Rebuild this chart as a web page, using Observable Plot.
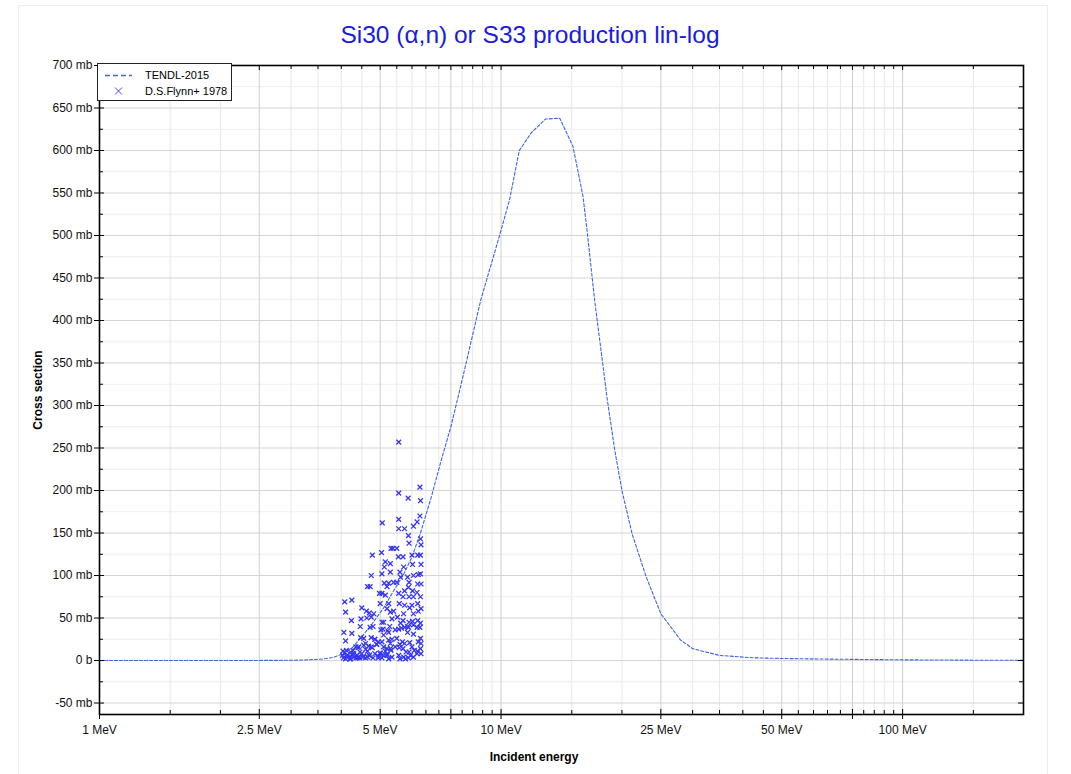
<!DOCTYPE html>
<html><head><meta charset="utf-8">
<script src="https://cdn.jsdelivr.net/npm/d3@7"></script>
<script src="https://cdn.jsdelivr.net/npm/@observablehq/plot@0.6"></script>
<style>
body{margin:0;background:#fff;font-family:"Liberation Sans",Arial,Helvetica,sans-serif;}
#wrap{position:relative;width:1071px;height:774px;overflow:hidden;background:#fff;}
#outer{position:absolute;left:18px;top:5px;width:1028px;height:820px;border:1px solid #ededed;}
#title{position:relative;height:50px;box-sizing:border-box;padding-top:21px;line-height:28px;font-size:24.5px;color:#1a1ae6;text-align:center;width:1060px;}
#chart{position:relative;}
#xlabel{position:absolute;left:434px;width:200px;text-align:center;top:750px;font-weight:bold;font-size:12px;}
#ylabel{position:absolute;left:-62px;top:383px;width:200px;text-align:center;font-weight:bold;font-size:12px;transform:rotate(-90deg);}
#legend{position:absolute;left:97px;top:63px;width:133px;height:36px;border:1px solid #222;background:#fff;}
</style></head>
<body><div id="wrap"><div id="outer"></div>
<div id="title">Si30 (α,n) or S33 production lin-log</div>
<div id="chart"></div>
<div id="xlabel">Incident energy</div>
<div id="ylabel">Cross section</div>
<div id="legend"><svg width="133" height="36" style="font-family:'Liberation Sans',Arial,sans-serif;font-size:11px">
<line x1="7" x2="34" y1="11.5" y2="11.5" stroke="#3d64e0" stroke-width="1.6" stroke-dasharray="5,3"/>
<text x="47" y="15">TENDL-2015</text>
<path d="M17,23.5 l7,7 M24,23.5 l-7,7" stroke="#4a4af5" stroke-width="1"/>
<text x="47" y="31">D.S.Flynn+ 1978</text>
</svg></div>
</div>
<script>
// TENDL-2015 evaluated curve
const tendlE  = [1, 1.5, 2, 2.5, 3, 3.3, 3.6, 3.8, 4.0, 4.26, 4.5, 4.77, 5.1, 5.4, 5.7, 6.0, 6.3, 6.7, 7.1, 7.5, 8.0, 8.9, 9.9, 10.5, 11.1, 11.9, 12.9, 14.0, 15.1, 16.0, 16.4, 17.1, 18.4, 19.2, 20.0, 21.2, 23.0, 25.0, 28.0, 30.0, 35.0, 42.5, 50, 70, 100, 150, 200];
const tendlMb = [0, 0, 0, 0.1, 0.3, 0.8, 1.8, 3.5, 7, 15, 28, 43, 62, 82, 100, 122, 150, 192, 236, 275, 330, 424, 499, 542, 600, 621, 637, 638, 605, 546, 503, 424, 306, 247, 200, 149, 98, 55, 24, 14, 6, 3.2, 2.4, 1.5, 0.8, 0.4, 0.2];

// D.S.Flynn+ 1978 measured points
const flynnE = [
 4.08,4.10,4.06,4.10,4.04,4.08,4.05,4.10,4.03,4.12,
 4.25,4.24,4.25,4.22,4.28,4.22,4.30,4.26,4.20,
 4.50,4.48,4.46,4.47,4.42,4.40,4.45,4.52,4.50,4.38,4.55,4.55,
 4.65,4.75,4.78,4.72,4.62,4.70,4.75,4.63,4.72,4.80,4.75,4.68,4.78,4.60,4.80,4.70,4.65,4.82,4.85,4.90,
 4.98,5.05,5.05,5.04,5.06,5.00,5.05,5.10,5.02,5.08,4.95,5.05,5.00,5.10,5.05,4.95,5.10,5.12,5.12,5.15,5.15,
 5.20,5.25,5.30,5.32,5.38,5.30,5.25,5.20,5.30,5.35,5.28,5.22,5.25,5.35,5.30,5.20,5.32,5.20,5.35,5.25,5.40,5.40,
 5.56,5.56,5.56,5.56,5.50,5.55,5.60,5.50,5.56,5.58,5.52,5.56,5.50,5.58,5.56,5.60,5.62,5.62,
 5.75,5.72,5.70,5.75,5.70,5.75,5.72,5.70,5.75,5.68,5.75,5.70,5.80,5.72,5.78,
 5.87,5.88,5.90,5.85,5.90,5.88,5.90,5.92,5.90,5.88,5.85,5.92,5.90,5.95,5.88,
 6.05,6.02,6.00,6.05,6.02,6.05,6.00,6.05,6.02,6.05,6.00,6.08,6.05,
 6.18,6.20,6.22,6.20,6.18,6.20,6.22,6.20,6.18,6.22,6.20,6.18,
 6.28,6.30,6.28,6.30,6.32,6.30,6.32,6.30,6.32,6.30,6.32,6.30,6.28,6.30,6.32,6.30,6.32,
 4.15,4.30,4.45,4.60,4.75,4.90,4.35,4.55,4.70,4.85,5.00,5.15,5.30,5.45,5.60,
 4.12,4.35,4.60,4.85,5.10,5.25,5.45,5.65,5.85,6.05,4.20,4.40,4.65,4.95,5.20
];
const flynnMb = [
 69,57,33,23,11,9,3,2,6,5,
 71,47,32,10,12,2,4,7,5,
 62,49,40,27,16,15,3,4,8,6,18,26,
 87,100,124,87,58,56,51,50,39,40,27,17,15,3,3,6,11,55,25,19,
 79,79,102,127,162,67,45,45,36,37,22,22,8,6,3,3,16,91,110,116,77,
 87,91,114,132,132,104,67,61,57,49,40,35,24,25,20,14,12,7,4,2,58,92,
 257,197,166,155,132,122,104,92,79,67,51,37,26,15,6,2,44,98,
 155,110,122,82,75,65,55,47,39,22,20,14,10,4,2,
 191,147,138,98,92,86,75,62,45,39,33,21,10,6,3,
 158,113,124,100,82,75,65,55,46,31,16,12,4,
 163,124,101,90,80,67,58,47,39,22,11,8,
 204,188,170,143,136,124,113,102,90,75,61,44,39,26,20,14,8,
 6,8,10,13,16,19,3,5,6,8,9,11,14,16,19,
 12,16,20,25,30,33,36,38,40,42,2,3,4,5,6
];

const tendl = tendlE.map((e, i) => ({e, mb: tendlMb[i]}));
const flynn = flynnE.map((e, i) => ({e, mb: flynnMb[i]}));

const xMajor = [1, 2.5, 5, 7.5, 10, 25, 50, 75, 100];
const xLabeled = [1, 2.5, 5, 10, 25, 50, 100];
const xMinor = [1.5, 2, 3, 3.5, 4, 4.5, 5.5, 6, 6.5, 7, 8, 8.5, 9, 9.5, 15, 20, 30, 35, 40, 45, 55, 60, 65, 70, 80, 85, 90, 95, 150];
const yMajor = [-50, 0, 50, 100, 150, 200, 250, 300, 350, 400, 450, 500, 550, 600, 650, 700];
const yMinor = [-25, 25, 75, 125, 175, 225, 275, 325, 375, 425, 475, 525, 575, 625, 675];

const W = 1071, H = 724, mT = 15, mB = 60, mL = 99, mR = 48;
const PW = W - mL - mR, PH = H - mT - mB;

const chart = Plot.plot({
  width: W, height: H,
  marginTop: mT, marginBottom: mB, marginLeft: mL, marginRight: mR,
  style: {fontFamily: "'Liberation Sans', Arial, sans-serif", fontSize: "12px", color: "#111", background: "transparent"},
  x: {type: "log", domain: [1, 200]},
  y: {domain: [-63.5, 700]},
  marks: [
    Plot.gridX(xMinor, {stroke: "#e8e8e8", strokeOpacity: 1}),
    Plot.gridY(yMinor, {stroke: "#eeeeee", strokeOpacity: 1}),
    Plot.gridX(xMajor, {stroke: "#cfcfcf", strokeOpacity: 1}),
    Plot.gridY(yMajor, {stroke: "#d4d4d4", strokeOpacity: 1}),
    Plot.line(tendl, {x: "e", y: "mb", stroke: "#3d64e0", strokeWidth: 1.1, strokeDasharray: "3,2"}),
    Plot.dot(flynn, {x: "e", y: "mb", symbol: "times", r: 2.3, stroke: "#3535f5", strokeWidth: 1.3}),
    Plot.frame({stroke: "#000", strokeWidth: 1.6}),
    Plot.axisX(xMajor, {tickSize: 5, tickPadding: 6, tickFormat: d => xLabeled.includes(d) ? `${d} MeV` : "", label: null, stroke: "#000"}),
    Plot.axisY(yMajor, {tickSize: 5, tickPadding: 2, tickFormat: d => d === 0 ? "0 b" : `${d} mb`, label: null, stroke: "#000"}),
    Plot.tickX(xMajor, {x: d => d, insetTop: PH - 5, stroke: "#000"}),
    Plot.tickX(xMajor, {x: d => d, insetBottom: PH - 5, stroke: "#000"}),
    Plot.tickX(xMinor, {x: d => d, insetTop: PH - 4, stroke: "#000"}),
    Plot.tickX(xMinor, {x: d => d, insetBottom: PH - 4, stroke: "#000"}),
    Plot.tickY(yMajor, {y: d => d, insetRight: PW - 5, stroke: "#000"}),
    Plot.tickY(yMajor, {y: d => d, insetLeft: PW - 5, stroke: "#000"}),
    Plot.tickY(yMinor, {y: d => d, insetRight: PW - 4, stroke: "#000"}),
    Plot.tickY(yMinor, {y: d => d, insetLeft: PW - 4, stroke: "#000"})
  ]
});
document.getElementById("chart").appendChild(chart);
</script>
</body></html>
